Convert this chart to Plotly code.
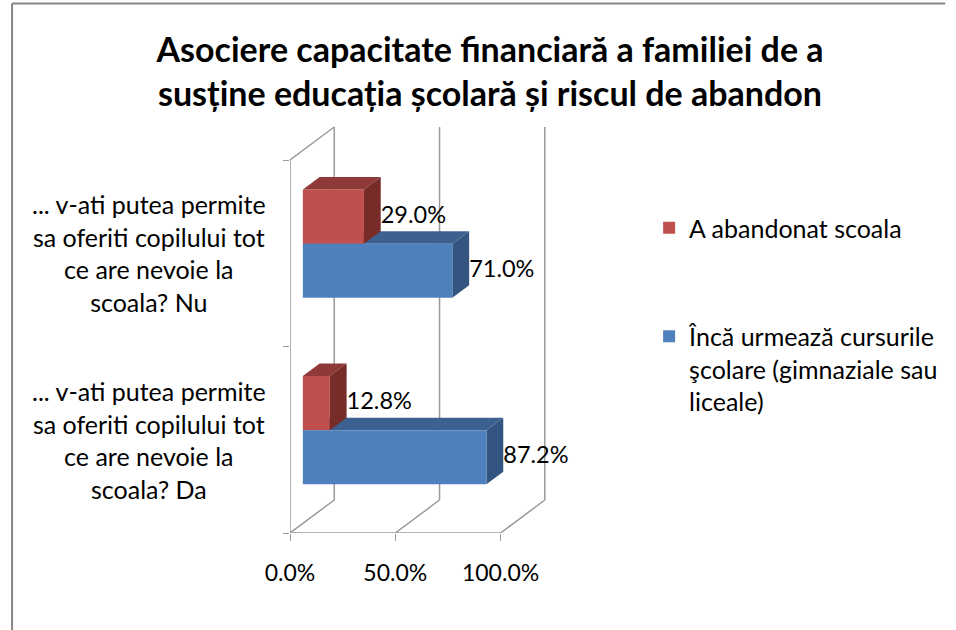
import plotly.graph_objects as go

# ---------------- data ----------------
categories = [
    "... v-ati putea permite<br>sa oferiti copilului tot<br>ce are nevoie la<br>scoala? Da",
    "... v-ati putea permite<br>sa oferiti copilului tot<br>ce are nevoie la<br>scoala? Nu",
]
series_names = ["A abandonat scoala",
                "Încă urmează cursurile<br>şcolare (gimnaziale sau<br>liceale)"]
abandonat = [0.128, 0.290]
urmeaza = [0.872, 0.710]
x_ticks = [0.0, 0.5, 1.0]
title_text = ("Asociere capacitate financiară a familiei de a<br>"
              "susține educația școlară și riscul de abandon")

# ---------------- geometry (pixels) ----------------
W, H = 956, 630
PLOT_L, PLOT_R, PLOT_T, PLOT_B = 290, 600, 118, 533
S = 214.0            # px per 1.0 (100 %)
CAT_H = 186.5        # px per category
BACK_DX, BACK_DY = 45.0, 33.0   # oblique depth offset of back wall
BAR_FRONT, BAR_DEPTH = 0.29, 0.38
BAR_W = 0.29

ux = lambda px: px / S
uy = lambda px: px / CAT_H
bdx, bdy = ux(BACK_DX), uy(BACK_DY)
base = BAR_FRONT * bdx
lift = BAR_FRONT * bdy
ddx, ddy = BAR_DEPTH * bdx, BAR_DEPTH * bdy

red, red_top, red_side = "#C0504D", "#8F3A38", "#772C2A"
blue, blue_top, blue_side = "#4F81BD", "#3C6190", "#33557F"
grid_col = "#9A9A9A"
FONT = "Lato, 'Open Sans', sans-serif"

ypos = list(range(len(categories)))
fig = go.Figure()

series = [
    (series_names[0], abandonat, red, red_top, red_side, lift),
    (series_names[1], urmeaza, blue, blue_top, blue_side, lift - BAR_W),
]

for i, (name, vals, col, _, _, off) in enumerate(series):
    fig.add_trace(go.Bar(
        name=name, orientation="h", x=vals, y=ypos, base=base,
        offset=off, width=BAR_W, marker=dict(color=col, line=dict(width=0)),
        legendgroup=f"g{i}", hoverinfo="skip"))

# data labels
for name, vals, col, _, _, off in series:
    fig.add_trace(go.Scatter(
        x=[base + v + ddx for v in vals], y=[c + off + BAR_W / 2 for c in ypos],
        mode="text", text=[f"{v*100:.1f}%" for v in vals],
        textposition="middle right", textfont=dict(size=23.5, color="black", family=FONT),
        showlegend=False, hoverinfo="skip", cliponaxis=False))

shapes = []
line = dict(color=grid_col, width=1.5)
y_lo, y_hi = -0.5, len(categories) - 0.5
# back wall gridlines
for g in x_ticks:
    shapes.append(dict(type="line", xref="x", yref="y", layer="below",
                       x0=g + bdx, x1=g + bdx, y0=y_lo + bdy, y1=y_hi + bdy, line=line))
    shapes.append(dict(type="line", xref="x", yref="y", layer="below",
                       x0=g, x1=g + bdx, y0=y_lo, y1=y_lo + bdy, line=line))
# front floor edge, left wall
shapes.append(dict(type="line", xref="x", yref="y", layer="below",
                   x0=x_ticks[0], x1=x_ticks[-1], y0=y_lo, y1=y_lo, line=line))
shapes.append(dict(type="line", xref="x", yref="y", layer="below",
                   x0=0, x1=0, y0=y_lo, y1=y_hi, line=line))
shapes.append(dict(type="line", xref="x", yref="y", layer="below",
                   x0=0, x1=bdx, y0=y_hi, y1=y_hi + bdy, line=line))

# 3D faces of bars
for name, vals, col, ctop, cside, off in series:
    layer = "above" if col == red else "below"
    for c, v in zip(ypos, vals):
        x0, x1 = base, base + v
        yb, yt = c + off, c + off + BAR_W
        top = (f"M{x0},{yt} L{x1},{yt} L{x1+ddx},{yt+ddy} L{x0+ddx},{yt+ddy} Z")
        side = (f"M{x1},{yb} L{x1},{yt} L{x1+ddx},{yt+ddy} L{x1+ddx},{yb+ddy} Z")
        shapes.append(dict(type="path", path=top, xref="x", yref="y", layer=layer,
                           fillcolor=ctop, line=dict(width=0)))
        shapes.append(dict(type="path", path=side, xref="x", yref="y", layer=layer,
                           fillcolor=cside, line=dict(width=0)))

# chart border (left and top)
px2x = lambda px: (px - PLOT_L) / (PLOT_R - PLOT_L)
px2y = lambda py: (PLOT_B - py) / (PLOT_B - PLOT_T)
shapes.append(dict(type="line", xref="paper", yref="paper",
                   x0=px2x(7.5), x1=px2x(7.5), y0=px2y(H), y1=px2y(3.5),
                   line=dict(color="#868686", width=2)))
shapes.append(dict(type="line", xref="paper", yref="paper",
                   x0=px2x(7.5), x1=px2x(W), y0=px2y(3.5), y1=px2y(3.5),
                   line=dict(color="#868686", width=2)))

annotations = []
for c, lab in zip(ypos, categories):
    annotations.append(dict(
        text=lab, xref="paper", yref="y",
        x=px2x(147), y=c, xanchor="center", yanchor="middle",
        showarrow=False, align="center", font=dict(size=25, color="black", family=FONT)))

fig.update_layout(
    width=W, height=H,
    margin=dict(l=PLOT_L, r=W - PLOT_R, t=PLOT_T, b=H - PLOT_B),
    paper_bgcolor="white", plot_bgcolor="white",
    barmode="overlay",
    title=dict(text=title_text, x=490 / W, xanchor="center",
               y=1 - 62 / H, yanchor="top",
               font=dict(size=34, color="black", family="Lato, sans-serif", weight="bold")),
    xaxis=dict(range=[0, ux(PLOT_R - PLOT_L)], tickvals=x_ticks, tickformat=".1%",
               ticks="outside", ticklen=7, tickcolor=grid_col, showgrid=False,
               zeroline=False, showline=False, ticklabelstandoff=12,
               tickfont=dict(size=23, color="black", family=FONT), fixedrange=True),
    yaxis=dict(range=[y_lo, y_lo + uy(PLOT_B - PLOT_T)],
               tickvals=[y_lo + k for k in range(len(categories) + 1)],
               ticks="outside", ticklen=6, tickcolor=grid_col, showticklabels=False,
               showgrid=False, zeroline=False, showline=False, fixedrange=True),
    legend=dict(x=px2x(655), xanchor="left",
                y=px2y(205), yanchor="top",
                font=dict(size=25, color="black", family=FONT),
                tracegroupgap=73, valign="top", bgcolor="rgba(0,0,0,0)"),
    shapes=shapes, annotations=annotations,
)

fig.write_html("out.html", config={"displayModeBar": False},
               post_script="document.body.style.margin='0';")
